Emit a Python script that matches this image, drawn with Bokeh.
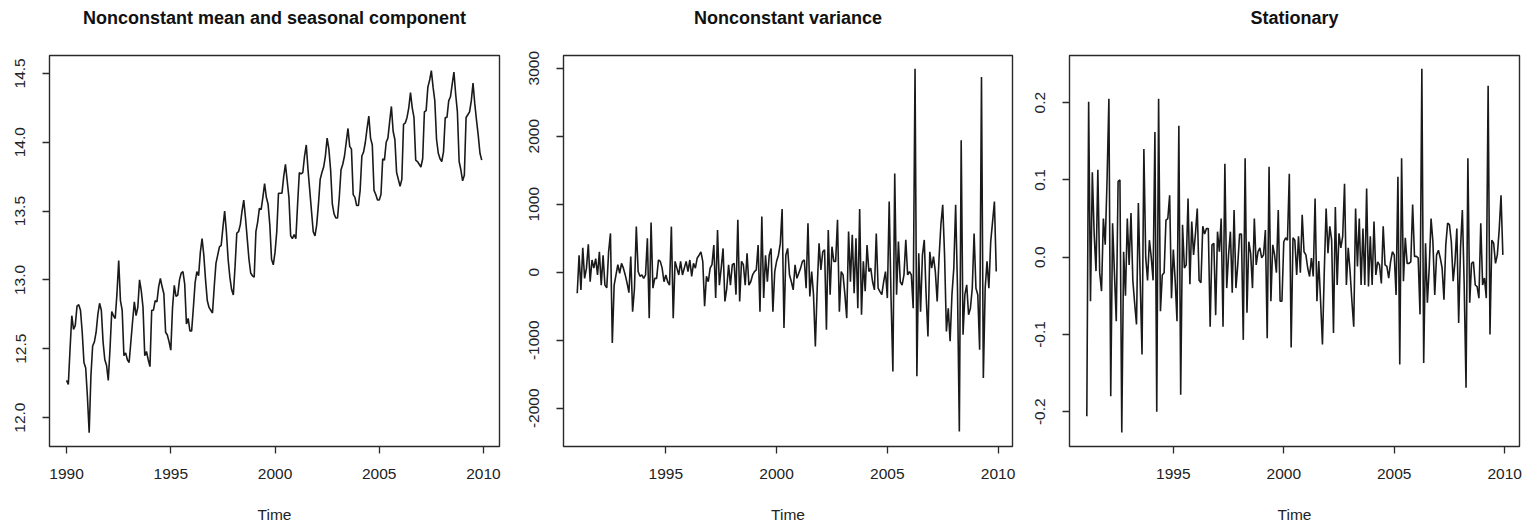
import numpy as np
from bokeh.plotting import figure
from bokeh.layouts import row
from bokeh.models import FixedTicker, PrintfTickFormatter, Title
from bokeh.embed import file_html
from bokeh.resources import INLINE

# ---- data (monthly series) ----
mean_start = 1990.0
mean_values = [
    12.27, 12.24, 12.50, 12.74, 12.64, 12.67, 12.81, 12.82, 12.78, 12.62, 12.40, 12.36,
    12.15, 11.89, 12.30, 12.52, 12.55, 12.62, 12.75, 12.83, 12.78, 12.55, 12.42, 12.38,
    12.27, 12.50, 12.77, 12.74, 12.72, 12.90, 13.14, 12.85, 12.78, 12.45, 12.47, 12.42,
    12.40, 12.55, 12.70, 12.84, 12.74, 12.80, 13.00, 12.92, 12.80, 12.45, 12.48, 12.42,
    12.37, 12.78, 12.78, 12.85, 12.84, 12.95, 13.01, 12.95, 12.90, 12.62, 12.60, 12.55,
    12.49, 12.80, 12.96, 12.88, 12.89, 13.00, 13.05, 13.06, 12.97, 12.68, 12.72, 12.63,
    12.63, 12.80, 12.98, 13.06, 13.03, 13.20, 13.30, 13.18, 13.00, 12.85, 12.80, 12.78,
    12.76, 12.95, 13.12, 13.18, 13.24, 13.25, 13.38, 13.50, 13.35, 13.15, 13.02, 12.93,
    12.89, 13.10, 13.34, 13.35, 13.40, 13.50, 13.58, 13.45, 13.30, 13.15, 13.05, 13.03,
    13.02, 13.35, 13.42, 13.52, 13.51, 13.60, 13.70, 13.60, 13.55, 13.40, 13.15, 13.11,
    13.20, 13.35, 13.63, 13.63, 13.63, 13.75, 13.84, 13.72, 13.60, 13.32, 13.30, 13.33,
    13.30, 13.55, 13.78, 13.77, 13.78, 13.90, 13.98, 13.80, 13.65, 13.50, 13.35, 13.32,
    13.40, 13.55, 13.73, 13.78, 13.82, 13.90, 14.03, 13.95, 13.80, 13.55, 13.48, 13.45,
    13.45, 13.60, 13.80, 13.84, 13.90, 14.00, 14.10, 13.97, 13.95, 13.62, 13.60, 13.54,
    13.54, 13.65, 13.90, 13.93, 14.00, 14.10, 14.19, 14.03, 13.98, 13.65, 13.62, 13.58,
    13.58, 13.62, 13.88, 13.87, 14.00, 14.03, 14.15, 14.26, 14.08, 14.02, 13.78, 13.73,
    13.68, 13.73, 14.13, 14.14, 14.18, 14.25, 14.36, 14.25, 14.18, 13.87, 13.86, 13.84,
    13.82, 13.88, 14.22, 14.23, 14.40, 14.45, 14.52, 14.40, 14.30, 14.02, 13.92, 13.88,
    13.86, 13.93, 14.18, 14.18, 14.30, 14.33, 14.42, 14.51, 14.35, 14.22, 13.86, 13.80,
    13.72, 13.76, 14.18, 14.20, 14.22, 14.30, 14.43, 14.28, 14.16, 14.05, 13.92, 13.87,
]

var_start = 1991.0
var_values = [
    -310, 250, -260, 360, -90, 60, 410, -140, 180, 60,
    200, -40, 300, -190, 250, -190, -230, 300, 570, -1040,
    -190, -40, 110, -15, 130, 60, -40, -160, -300, 230,
    -580, -240, 670, 10, -60, -40, -90, -40, 500, -675,
    730, -235, -90, -90, 180, 160, 60, -140, -40, -140,
    -190, 670, -675, 160, 60, -40, 160, -40, 60, 160,
    10, 180, -60, 130, 60, 210, 250, 300, 160, -500,
    -60, -140,
    60, 110, 400, -380, 620, -190, 60, 350, -430, -240,
    110, -190, 110, 130, -330, 770, -430, 160, 110, -190,
    280, -190, -140, -40, 10, 35, 400, -580, 820, -380,
    250, -140, 250, 350, -580, 10, 160, 250, 420, 930,
    -820, 250, 350, -40, -140, -260, 110, -90, -15, 60,
    160, 180, -235, 720, -355, 10, -330, -1090, -235, 425,
    35, 300, 330, -845, 620, -330, 375, 160, 160, 770,
    -580, 10, -40, -330, -675, 600, -140, 550, -310, 500,
    -530, 930,
    -625, 160, -280, 400, 10, 60, -140, -260, 570, -235,
    -285, -330, -140, 10, -380, 1040, -380, -1460, 1450, -330,
    450, -140, -190, -40, 475, -40, 10, -40, -530, 2990,
    -1530, 280, -580, 250, 475, -330, -945, 300, 60, 230,
    10, -430, 205, 695, 990, 250, -870, -530, -1015, -330,
    60, 990, -235, -2340, 1940, -920, -330, -185, -625, -530,
    -235, 570, -235, -330, -1140, 2870, -1555, -235, 160, -235,
    450, 740, 1040, 10,
]

stat_start = 1991.0 + 1 / 12
stat_values = [
    -0.206, 0.201, -0.057, 0.110, 0.030, -0.018, 0.113, -0.020, -0.044, 0.050,
    0.016, 0.100, 0.205, -0.180, 0.044, -0.020, -0.083, 0.098, 0.100, -0.227,
    0.007, -0.050, 0.050, -0.010, 0.057, -0.030, -0.060, -0.087, 0.070, -0.030,
    -0.126, 0.140, 0.000, -0.030, 0.022, 0.000, -0.030, 0.162, -0.200, 0.205,
    -0.070, -0.023, -0.020, 0.048, 0.050, 0.080, -0.053, 0.010, -0.030, -0.083,
    0.170, -0.178, 0.042, -0.014, -0.010, 0.076, -0.035, 0.046, 0.003, 0.030,
    0.063, -0.030, -0.033, 0.040, 0.030, 0.037, 0.037, -0.090, 0.016, 0.018,
    -0.075, 0.033, 0.007, 0.050, -0.090, 0.121, -0.040, 0.003, 0.033, -0.046,
    0.061, -0.040, -0.010, 0.030, 0.030, -0.107, 0.128, -0.072, 0.020, 0.005,
    -0.040, 0.050, -0.010, 0.007, 0.012, -0.001, 0.003, 0.035, -0.105, 0.117,
    -0.057, 0.016, 0.003, -0.020, 0.061, -0.057, -0.057, 0.020, 0.025, 0.022,
    0.108,
    -0.117, 0.025, 0.022, -0.023, 0.027, -0.020, 0.055, 0.007, 0.003, -0.014,
    -0.025, -0.001, -0.025, 0.076, -0.057, -0.005, -0.057, -0.113, -0.018, 0.063,
    0.005, 0.040, 0.022, -0.098, 0.065, -0.036, 0.031, 0.012, 0.027, 0.095,
    -0.036, 0.012, -0.018, -0.057, -0.090, 0.063, -0.012, 0.050, -0.036, 0.037,
    -0.036, 0.089, -0.038, 0.027, -0.036, 0.046, -0.023, -0.006, -0.010, -0.034,
    0.040, -0.010, -0.012, -0.027, -0.006, 0.007, 0.003, -0.049, 0.104, -0.139,
    0.128, -0.031, 0.025, -0.008, -0.008, -0.006, 0.068, 0.001, 0.001, -0.001,
    -0.074, 0.244, -0.137, 0.018, -0.059, -0.014, 0.050, 0.020, -0.049, 0.003,
    0.009, -0.001, -0.014, -0.055, 0.016, 0.044, 0.042, 0.020, -0.031, -0.006,
    0.037, -0.085, 0.012, 0.061, -0.036, -0.169, 0.128, -0.059, -0.008, -0.006,
    -0.036, -0.038, -0.053, 0.044, -0.036, -0.027, -0.053, 0.222, -0.100, 0.022,
    0.018, -0.008, 0.003, 0.035, 0.080, 0.003,
]

titles = ["Nonconstant mean and seasonal component", "Nonconstant variance", "Stationary"]
mean_xticks = [1990, 1995, 2000, 2005, 2010]
var_xticks = [1995, 2000, 2005, 2010]
stat_xticks = [1995, 2000, 2005, 2010]
mean_yticks = [12.0, 12.5, 13.0, 13.5, 14.0, 14.5]
var_yticks = [-2000, -1000, 0, 1000, 2000, 3000]
stat_yticks = [-0.2, -0.1, 0.0, 0.1, 0.2]

FONT = "Liberation Sans"
H = 526
BOTTOM = 80


def panel(width, bl, br, xr, yr, t, v, xticks, yticks, yfmt, title):
    p = figure(width=width, height=H, x_range=xr, y_range=yr, title=None,
               output_backend="svg", toolbar_location=None,
               min_border_left=bl, min_border_right=br,
               min_border_top=0, min_border_bottom=BOTTOM)
    p.line(t, v, line_color="#1a1a1a", line_width=1.6)
    p.grid.visible = False
    p.background_fill_color = "white"
    p.border_fill_color = "white"
    p.outline_line_color = "#2a2a2a"
    p.outline_line_width = 1.4
    for ax in (p.xaxis, p.yaxis):
        ax.axis_line_color = None
        ax.major_tick_out = 7
        ax.major_tick_in = 0
        ax.major_tick_line_color = "#2a2a2a"
        ax.major_tick_line_width = 1.3
        ax.minor_tick_line_color = None
        ax.major_label_text_font = FONT
        ax.major_label_text_font_size = "15.5px"
        ax.major_label_text_color = "#222222"
    p.xaxis.major_label_standoff = 15
    p.yaxis.major_label_standoff = 17
    p.xaxis.ticker = FixedTicker(ticks=xticks)
    p.yaxis.ticker = FixedTicker(ticks=yticks)
    p.yaxis.formatter = PrintfTickFormatter(format=yfmt)
    p.yaxis.major_label_orientation = "vertical"
    p.xaxis.axis_label = "Time"
    p.xaxis.axis_label_text_font = FONT
    p.xaxis.axis_label_text_font_style = "normal"
    p.xaxis.axis_label_text_font_size = "15.5px"
    p.xaxis.axis_label_text_color = "#222222"
    p.xaxis.axis_label_standoff = 24
    # spacer (closest to the frame), then the real title above it
    p.add_layout(Title(text=" ", text_font_size="10px", standoff=9), "above")
    p.add_layout(Title(text=title, align="center", text_font=FONT,
                       text_font_style="bold", text_font_size="18px",
                       text_color="#111111", standoff=11), "above")
    return p


t_mean = mean_start + np.arange(len(mean_values)) / 12
t_var = var_start + np.arange(len(var_values)) / 12
t_stat = stat_start + np.arange(len(stat_values)) / 12

p1 = panel(520, 49, 21, (1989.18, 2010.77), (11.79, 14.63), t_mean, mean_values,
           mean_xticks, mean_yticks, "%.1f", titles[0])
p2 = panel(510, 43, 18, (1990.38, 2010.65), (-2562, 3186), t_var, var_values,
           var_xticks, var_yticks, "%d", titles[1])
p3 = panel(496, 39, 7, (1990.30, 2010.67), (-0.245, 0.261), t_stat, stat_values,
           stat_xticks, stat_yticks, "%.1f", titles[2])

layout = row(p1, p2, p3)
open("out.html", "w").write(file_html(layout, INLINE))
